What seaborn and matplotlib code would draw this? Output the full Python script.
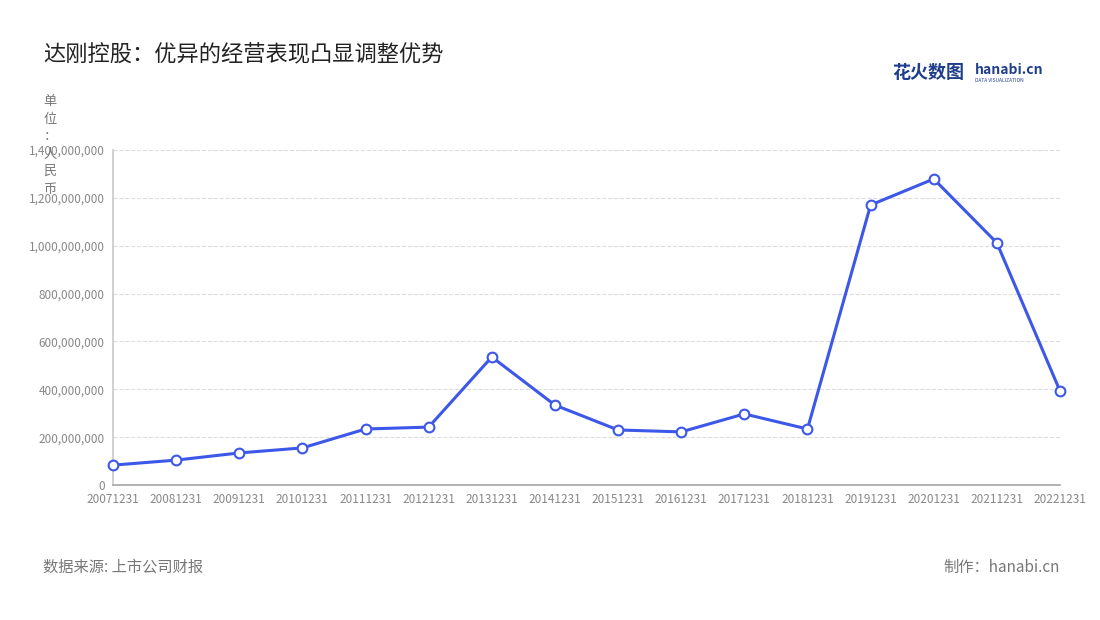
import matplotlib
matplotlib.use("Agg")
import matplotlib.pyplot as plt
import seaborn as sns
import pandas as pd

periods = ["20071231", "20081231", "20091231", "20101231", "20111231", "20121231",
           "20131231", "20141231", "20151231", "20161231", "20171231", "20181231",
           "20191231", "20201231", "20211231", "20221231"]
profit = [83e6, 104e6, 134e6, 155e6, 234e6, 242e6, 535e6, 334e6, 230e6, 222e6,
          297e6, 234e6, 1170e6, 1279e6, 1012e6, 393e6]
yticks = [0, 200e6, 400e6, 600e6, 800e6, 1000e6, 1200e6, 1400e6]

sns.set_theme(style="white")
plt.rcParams["font.family"] = ["Noto Sans CJK SC", "DejaVu Sans"]

df = pd.DataFrame({"x": range(len(periods)), "v": profit})

fig = plt.figure(figsize=(11, 6.2), dpi=100)
ax = fig.add_axes([113 / 1100, 1 - 485 / 620, (1060 - 113) / 1100, (485 - 150) / 620])
sns.lineplot(data=df, x="x", y="v", ax=ax, color="#3d57e8", linewidth=2.2,
             marker="o", markersize=7, markerfacecolor="white",
             markeredgecolor="#3d57e8", markeredgewidth=1.5, clip_on=False, zorder=3)

ax.set_xlim(0, len(periods) - 1)
ax.set_ylim(0, 1.4e9)
ax.set_xticks(range(len(periods)))
ax.set_xticklabels(periods, fontsize=8.5, color="#888888")
ax.set_yticks(yticks)
ax.set_yticklabels([f"{int(v):,}" for v in yticks], fontsize=8.5, color="#888888")
ax.set_xlabel("")
ax.set_ylabel("")
ax.grid(axis="y", color="#dddddd", linestyle="--", linewidth=0.8)
for s in ["top", "right"]:
    ax.spines[s].set_visible(False)
ax.spines["left"].set_color("#cccccc")
ax.spines["bottom"].set_color("#aaaaaa")
ax.tick_params(axis="both", length=3, color="#aaaaaa", pad=3)

fig.text(43 / 1100, 1 - 55 / 620, "达刚控股：优异的经营表现凸显调整优势", fontsize=16,
         color="#222222", va="center")
fig.text(50 / 1100, 1 - 95 / 620, "单\n位\n：\n人\n民\n币", fontsize=9.5, color="#777777",
         va="top", ha="center", linespacing=1.45)
fig.text(892 / 1100, 1 - 73 / 620, "花火数图", fontsize=13, color="#1f3e8c",
         fontweight="bold", va="center")
fig.text(975 / 1100, 1 - 70 / 620, "hanabi.cn", fontsize=10, color="#1f3e8c",
         fontweight="bold", va="center")
fig.text(975 / 1100, 1 - 80 / 620, "DATA VISUALIZATION", fontsize=3.5, color="#1f3e8c",
         va="center")
fig.text(43 / 1100, 1 - 567 / 620, "数据来源: 上市公司财报", fontsize=11, color="#777777",
         va="center")
fig.text(1060 / 1100, 1 - 567 / 620, "制作：hanabi.cn", fontsize=11, color="#777777",
         va="center", ha="right")

fig.savefig("out.png", dpi=100)
